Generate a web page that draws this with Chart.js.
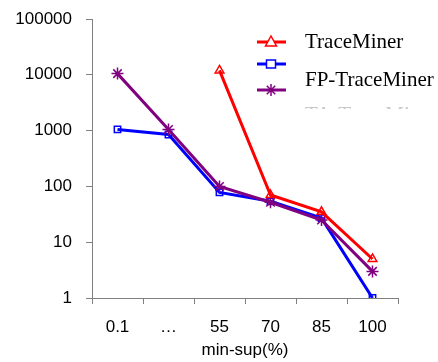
<!DOCTYPE html>
<html>
<head>
<meta charset="utf-8">
<script src="https://cdn.jsdelivr.net/npm/chart.js@4/dist/chart.umd.min.js"></script>
<style>
  html, body { margin: 0; padding: 0; background: #fff; }
  #wrap { width: 438px; height: 362px; }
</style>
</head>
<body>
<div id="wrap"><canvas id="chart" width="438" height="362"></canvas></div>
<script>
'use strict';

var categories = ['0.1', '\u2026', '55', '70', '85', '100'];
var traceMiner = [null, null, 12000, 70, 35, 5];
var fpTraceMiner = [1050, 850, 78, 54, 27, 1];
var thirdMiner = [10500, 1050, 100, 52, 25, 3];
var seriesNames = ['TraceMiner', 'FP-TraceMiner', 'TA-TraceMiner'];
var yTicks = [1, 10, 100, 1000, 10000, 100000];

var axisGray = '#808080';
var sansFont = { family: '"Liberation Sans", Arial, sans-serif', size: 17 };

var createDataset = function (label, data, color, style, radius, order) {
  return {
    label: label, data: data, order: order,
    borderColor: color, backgroundColor: 'rgba(255,255,255,0)',
    borderWidth: 3, pointStyle: style, pointRadius: radius,
    pointBorderWidth: 1.5, pointBorderColor: color,
    pointBackgroundColor: 'rgba(255,255,255,0)', tension: 0, spanGaps: false
  };
};

// hand drawn legend, the original has its rows a bit out of step
var legendPlugin = {
  id: 'paperLegend',
  afterDraw: function (chart) {
    var ctx = chart.ctx;
    var rows = [
      { line: 42, text: 42, marker: 'triangle', color: '#ff0000', name: seriesNames[0] },
      { line: 64, text: 80, marker: 'rect', color: '#0000ff', name: seriesNames[1] },
      { line: 90, text: 115, marker: 'star', color: '#800080', name: seriesNames[2] }
    ];
    ctx.save();
    rows.forEach(function (r, i) {
      ctx.strokeStyle = r.color;
      ctx.lineWidth = 3;
      ctx.beginPath(); ctx.moveTo(257, r.line); ctx.lineTo(286, r.line); ctx.stroke();
      ctx.lineWidth = 1.5;
      ctx.fillStyle = '#fff';
      var cx = 271, cy = r.line;
      ctx.beginPath();
      if (r.marker === 'triangle') {
        ctx.moveTo(cx, cy - 6); ctx.lineTo(cx + 5.5, cy + 4); ctx.lineTo(cx - 5.5, cy + 4); ctx.closePath();
        ctx.fill(); ctx.stroke();
      } else if (r.marker === 'rect') {
        ctx.rect(cx - 4.5, cy - 4, 9, 8); ctx.fill(); ctx.stroke();
      } else {
        for (var k = 0; k < 4; k++) {
          var a = k * Math.PI / 4;
          ctx.moveTo(cx - 6 * Math.cos(a), cy - 6 * Math.sin(a));
          ctx.lineTo(cx + 6 * Math.cos(a), cy + 6 * Math.sin(a));
        }
        ctx.stroke();
      }
      ctx.font = '21px "Liberation Serif", "Times New Roman", serif';
      ctx.textBaseline = 'middle';
      ctx.textAlign = 'left';
      if (i === 2) {
        ctx.save();
        ctx.beginPath(); ctx.rect(300, 100, 138, 9); ctx.clip();
        ctx.fillStyle = '#c8c8c8';
        ctx.fillText(r.name, 305, r.text);
        ctx.restore();
      } else {
        ctx.fillStyle = '#000';
        ctx.fillText(r.name, 305, r.text);
      }
    });
    ctx.restore();
  }
};

new Chart(document.getElementById('chart'), {
  type: 'line',
  data: {
    labels: categories,
    datasets: [
      createDataset(seriesNames[0], traceMiner, '#ff0000', 'triangle', 5, 0),
      createDataset(seriesNames[1], fpTraceMiner, '#0000ff', 'rect', 4.5, 2),
      createDataset(seriesNames[2], thirdMiner, '#800080', 'star', 6, 1)
    ]
  },
  options: {
    responsive: false,
    animation: false,
    layout: { padding: { top: 19, right: 40, left: 0, bottom: 0 } },
    plugins: { legend: { display: false }, tooltip: { enabled: false } },
    scales: {
      x: {
        offset: true,
        grid: { offset: true, drawOnChartArea: false, drawTicks: true, tickLength: 6, color: axisGray, lineWidth: 1 },
        border: { display: true, color: axisGray, width: 1 },
        ticks: { color: '#000', font: sansFont, padding: 13, maxRotation: 0, autoSkip: false },
        title: { display: true, text: 'min-sup(%)', color: '#000', font: sansFont, padding: { top: 0, bottom: 1 } },
        afterFit: function (scale) { scale.height = 64; }
      },
      y: {
        type: 'logarithmic',
        min: 1, max: 100000,
        grid: { drawOnChartArea: false, drawTicks: true, tickLength: 6, color: axisGray, lineWidth: 1 },
        border: { display: true, color: axisGray, width: 1 },
        ticks: { color: '#000', font: sansFont, padding: 14, callback: function (v) { return String(v); } },
        afterBuildTicks: function (axis) { axis.ticks = yTicks.map(function (v) { return { value: v, major: true }; }); },
        afterFit: function (scale) { scale.width = 92; scale.paddingTop = 0; scale.paddingBottom = 0; }
      }
    }
  },
  plugins: [legendPlugin]
});
</script>
</body>
</html>
